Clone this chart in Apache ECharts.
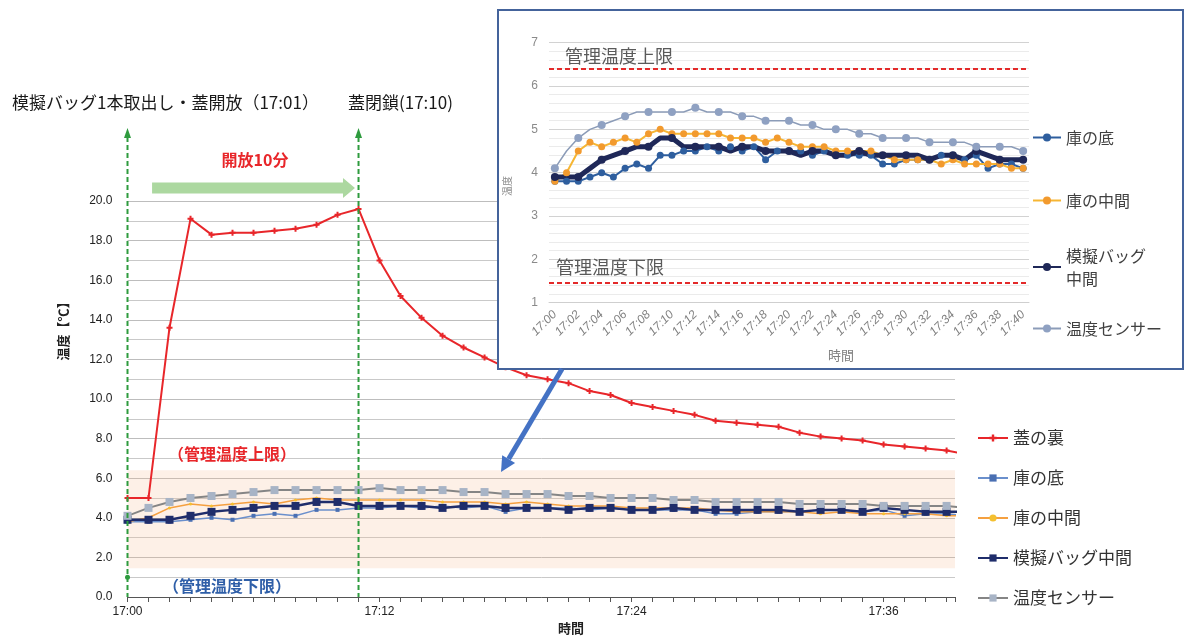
<!DOCTYPE html>
<html>
<head>
<meta charset="utf-8">
<script src="https://cdn.jsdelivr.net/npm/echarts@6/dist/echarts.min.js"></script>
<style>
  html, body { margin: 0; padding: 0; background: #ffffff; }
  #chart { width: 1184px; height: 636px; }
</style>
</head>
<body>
<div id="chart"></div>
<script>
// Readings taken once a minute, 17:00 – 17:40
const timeLabels = [
  '17:00','17:01','17:02','17:03','17:04','17:05','17:06','17:07','17:08','17:09',
  '17:10','17:11','17:12','17:13','17:14','17:15','17:16','17:17','17:18','17:19',
  '17:20','17:21','17:22','17:23','17:24','17:25','17:26','17:27','17:28','17:29',
  '17:30','17:31','17:32','17:33','17:34','17:35','17:36','17:37','17:38','17:39',
  '17:40'
];

// 蓋の裏
const lidTemp = [
  5.0, 5.0, 13.6, 19.1, 18.3, 18.4, 18.4, 18.5, 18.6, 18.8,
  19.3, 19.6, 17.0, 15.2, 14.1, 13.2, 12.6, 12.1, 11.6, 11.2,
  11.0, 10.8, 10.4, 10.2, 9.8, 9.6, 9.4, 9.2, 8.9, 8.8,
  8.7, 8.6, 8.3, 8.1, 8.0, 7.9, 7.7, 7.6, 7.5, 7.4,
  7.2
];
// 庫の底
const bottomTemp = [
  3.8, 3.8, 3.8, 3.9, 4.0, 3.9, 4.1, 4.2, 4.1, 4.4,
  4.4, 4.5, 4.5, 4.6, 4.5, 4.6, 4.5, 4.6, 4.3, 4.5,
  4.5, 4.5, 4.4, 4.5, 4.4, 4.4, 4.4, 4.4, 4.2, 4.2,
  4.3, 4.3, 4.3, 4.4, 4.4, 4.3, 4.4, 4.1, 4.2, 4.2,
  4.1
];
// 庫の中間
const middleTemp = [
  3.8, 4.0, 4.5, 4.7, 4.6, 4.7, 4.8, 4.7, 4.9, 5.0,
  4.9, 4.9, 4.9, 4.9, 4.9, 4.8, 4.8, 4.8, 4.7, 4.8,
  4.7, 4.6, 4.6, 4.6, 4.5, 4.5, 4.5, 4.5, 4.4, 4.3,
  4.3, 4.3, 4.3, 4.2, 4.3, 4.2, 4.2, 4.2, 4.2, 4.1,
  4.1
];
// 模擬バッグ中間
const bagTemp = [
  3.9, 3.9, 3.9, 4.1, 4.3, 4.4, 4.5, 4.6, 4.6, 4.8,
  4.8, 4.6, 4.6, 4.6, 4.6, 4.5, 4.6, 4.6, 4.5, 4.5,
  4.5, 4.4, 4.5, 4.5, 4.4, 4.4, 4.5, 4.4, 4.4, 4.4,
  4.4, 4.4, 4.3, 4.4, 4.4, 4.3, 4.5, 4.4, 4.3, 4.3,
  4.3
];
// 温度センサー
const sensorTemp = [
  4.1, 4.5, 4.8, 5.0, 5.1, 5.2, 5.3, 5.4, 5.4, 5.4,
  5.4, 5.4, 5.5, 5.4, 5.4, 5.4, 5.3, 5.3, 5.2, 5.2,
  5.2, 5.1, 5.1, 5.0, 5.0, 5.0, 4.9, 4.9, 4.8, 4.8,
  4.8, 4.8, 4.7, 4.7, 4.7, 4.7, 4.6, 4.6, 4.6, 4.6,
  4.5
];

// 管理温度 (上限・下限)
const controlUpper = 6.4;
const controlLower = 1.45;

// lid opened / closed (minutes after 17:00)
const eventMinutes = [0, 11];

// main axis tick labels
const mainYTicks = [0, 2, 4, 6, 8, 10, 12, 14, 16, 18, 20];
const mainXLabelMinutes = [0, 12, 24, 36];

const JP = "'Noto Sans CJK JP', 'Noto Sans', sans-serif";
const NUM = "'Liberation Sans', Arial, sans-serif";

// the enlarged panel reuses the legend names, so its series carry a suffix that the legend strips
const ZOOM = '（拡大）';

const asMinutes = arr => arr.map((v, i) => [i, v]);
const plusSymbol = 'path://M2,0h2v2h2v2h-2v2h-2v-2h-2v-2h2z';

const mainSeries = [
  {
    name: '蓋の裏', data: asMinutes(lidTemp),
    symbol: plusSymbol, symbolSize: 6,
    lineStyle: { color: '#e8262a', width: 2 }, itemStyle: { color: '#e8262a' },
    markArea: {
      silent: true,
      itemStyle: { color: 'rgba(246, 186, 146, 0.22)' },
      data: [[{ yAxis: controlLower }, { yAxis: controlUpper }]]
    }
  },
  {
    name: '庫の底', data: asMinutes(bottomTemp),
    symbol: 'rect', symbolSize: 4,
    lineStyle: { color: '#6a8fcc', width: 1.5 }, itemStyle: { color: '#4a6fb2' }
  },
  {
    name: '庫の中間', data: asMinutes(middleTemp),
    symbol: 'circle', symbolSize: 3,
    lineStyle: { color: '#f5a040', width: 1.5 }, itemStyle: { color: '#f4c030' }
  },
  {
    name: '模擬バッグ中間', data: asMinutes(bagTemp),
    symbol: 'rect', symbolSize: 8,
    lineStyle: { color: '#1f2d6b', width: 2.5 }, itemStyle: { color: '#1f2d6b' }
  },
  {
    name: '温度センサー', data: asMinutes(sensorTemp),
    symbol: 'rect', symbolSize: 8,
    lineStyle: { color: '#858585', width: 2 }, itemStyle: { color: '#a8b4c6' }
  }
].map(s => Object.assign({
  type: 'line', xAxisIndex: 0, yAxisIndex: 0, z: 2,
  showSymbol: true, animation: false, emphasis: { disabled: true }
}, s));

const insetSeries = [
  {
    name: '庫の底' + ZOOM, data: bottomTemp, symbolSize: 7,
    lineStyle: { color: '#2e5e9e', width: 2 }, itemStyle: { color: '#2e5e9e' },
    markLine: {
      silent: true, symbol: 'none', z: 9, label: { show: false },
      lineStyle: { color: '#e32a2a', width: 2, type: [5, 3] },
      data: [{ yAxis: controlUpper }, { yAxis: controlLower }]
    }
  },
  {
    name: '庫の中間' + ZOOM, data: middleTemp, symbolSize: 7,
    lineStyle: { color: '#f6b634', width: 2 }, itemStyle: { color: '#f29a2e' }
  },
  {
    name: '模擬バッグ\n中間', data: bagTemp, symbolSize: 8,
    lineStyle: { color: '#1f2858', width: 5 }, itemStyle: { color: '#1f2858' }
  },
  {
    name: '温度センサー' + ZOOM, data: sensorTemp, symbolSize: 8,
    lineStyle: { color: '#8c9cb8', width: 1.5 }, itemStyle: { color: '#8fa1c2' }
  }
].map(s => Object.assign({
  type: 'line', xAxisIndex: 1, yAxisIndex: 1, z: 8,
  symbol: 'circle', showSymbol: true, animation: false, emphasis: { disabled: true }
}, s));

const insetLegend = (name, top) => ({
  data: [name], orient: 'vertical', left: 1027, top: top, z: 9,
  itemWidth: 28, itemHeight: 10, selectedMode: false,
  formatter: n => n.replace(ZOOM, ''),
  textStyle: { fontFamily: JP, fontSize: 16, lineHeight: 23, color: '#404040' }
});

const option = {
  animation: false,
  backgroundColor: '#ffffff',
  grid: [
    { left: 127.5, right: 229, top: 201, bottom: 39, outerBoundsMode: 'none', containLabel: false },
    { left: 549, right: 155, top: 42.7, bottom: 333.3, outerBoundsMode: 'none', containLabel: false, z: 6 }
  ],
  xAxis: [
    {
      gridIndex: 0, type: 'value', min: 0, max: 39.4, interval: 1,
      axisLine: { show: true, lineStyle: { color: '#555555', width: 1 } },
      axisTick: { show: true, length: 5, lineStyle: { color: '#555555' } },
      splitLine: { show: false },
      axisLabel: {
        margin: 9, color: '#222222', fontFamily: NUM, fontSize: 12,
        formatter: v => mainXLabelMinutes.includes(v) ? timeLabels[v] : ''
      }
    },
    {
      gridIndex: 1, type: 'category', data: timeLabels, boundaryGap: true, z: 6,
      axisLine: { show: true, lineStyle: { color: '#cfcfcf' } },
      axisTick: { show: false },
      splitLine: { show: false },
      axisLabel: {
        interval: 1, rotate: 45, margin: 10, color: '#808080',
        fontFamily: NUM, fontSize: 12, fontStyle: 'italic'
      }
    }
  ],
  yAxis: [
    {
      gridIndex: 0, type: 'value', min: 0, max: 20, interval: 2,
      axisLine: { show: false }, axisTick: { show: false },
      splitLine: { show: true, lineStyle: { color: '#bdbdbd', width: 1 } },
      minorTick: { show: false, splitNumber: 2 },
      minorSplitLine: { show: true, lineStyle: { color: '#c9c9c9', width: 1 } },
      axisLabel: {
        margin: 15, color: '#222222', fontFamily: NUM, fontSize: 12,
        formatter: v => mainYTicks.includes(v) ? v.toFixed(1) : ''
      }
    },
    {
      gridIndex: 1, type: 'value', min: 1, max: 7, interval: 1, z: 6,
      axisLine: { show: false }, axisTick: { show: false },
      splitLine: { show: true, lineStyle: { color: '#d2d2d2', width: 1 } },
      minorTick: { show: false, splitNumber: 5 },
      minorSplitLine: { show: true, lineStyle: { color: '#ebebeb', width: 1 } },
      axisLabel: { margin: 11, color: '#8a8a8a', fontFamily: NUM, fontSize: 12 }
    }
  ],
  legend: [
    {
      data: mainSeries.map(s => s.name), orient: 'vertical',
      left: 972, top: 423, itemGap: 20, itemWidth: 30, itemHeight: 9, selectedMode: false,
      textStyle: { fontFamily: JP, fontSize: 17, lineHeight: 20, color: '#333333' }
    },
    insetLegend('庫の底' + ZOOM, 121),
    insetLegend('庫の中間' + ZOOM, 184),
    insetLegend('模擬バッグ\n中間', 239),
    insetLegend('温度センサー' + ZOOM, 312)
  ],
  series: mainSeries.concat(insetSeries)
};

const chart = echarts.init(document.getElementById('chart'), null, { renderer: 'canvas' });
chart.setOption(option);

// annotations placed from the main axes
const toPx = (m, v) => chart.convertToPixel({ xAxisIndex: 0, yAxisIndex: 0 }, [m, v]);
const green = '#2e9b3e';
const graphics = [];

eventMinutes.forEach(t => {
  const [x, yBase] = toPx(t, 0);
  graphics.push({
    type: 'line', z: 3, silent: true,
    shape: { x1: x, y1: 137, x2: x, y2: yBase },
    style: { stroke: green, lineWidth: 2, lineDash: [5, 3] }
  });
  graphics.push({
    type: 'polygon', z: 3, silent: true,
    shape: { points: [[x - 3.5, 138], [x, 128], [x + 3.5, 138]] },
    style: { fill: green }
  });
});
{
  const [gx, gy] = toPx(0, 1);
  graphics.push({ type: 'circle', z: 3, silent: true, shape: { cx: gx, cy: gy, r: 2.5 }, style: { fill: green } });
}

// open-period arrow (17:01 → 17:11)
{
  const xs = toPx(1.17, 0)[0];
  const xb = toPx(10.26, 0)[0];
  const xt = toPx(10.83, 0)[0];
  const cy = 188;
  graphics.push({
    type: 'polygon', z: 3, silent: true,
    shape: { points: [[xs, cy - 5.5], [xb, cy - 5.5], [xb, cy - 10], [xt, cy], [xb, cy + 10], [xb, cy + 5.5], [xs, cy + 5.5]] },
    style: { fill: '#acd8a0' }
  });
}

const text = (t, x, y, size, color, extraStyle, extraProps) => Object.assign({
  type: 'text', x: x, y: y, z: 9, silent: true,
  style: Object.assign({
    text: t, fontFamily: JP, fontSize: size, fill: color,
    align: 'left', verticalAlign: 'middle'
  }, extraStyle || {})
}, extraProps || {});

graphics.push(text('模擬バッグ1本取出し・蓋開放（17:01）', 12, 103, 17, '#1a1a1a'));
graphics.push(text('蓋閉鎖(17:10)', 348, 103, 17, '#1a1a1a'));
graphics.push(text('開放10分', 255, 160, 16, '#e8262a', { align: 'center', fontWeight: 'bold' }));
graphics.push(text('（管理温度上限）', 168, 454, 16, '#e8262a', { fontWeight: 'bold' }));
graphics.push(text('（管理温度下限）', 163, 586, 16, '#2f5fa8', { fontWeight: 'bold' }));
graphics.push(text('温度【℃】', 63, 328, 13, '#222222', { align: 'center', fontWeight: 'bold' }, { rotation: Math.PI / 2 }));
graphics.push(text('時間', 571, 628, 13, '#222222', { align: 'center', fontWeight: 'bold' }));

// enlarged panel frame
graphics.push({
  type: 'rect', z: 5, silent: true,
  shape: { x: 498, y: 10, width: 685, height: 359 },
  style: { fill: '#ffffff', stroke: '#44639b', lineWidth: 2 }
});
graphics.push(text('管理温度上限', 565, 56, 18, '#5a5a5a'));
graphics.push(text('管理温度下限', 556, 267, 18, '#5a5a5a'));
graphics.push(text('温度', 507, 186, 10, '#8a8a8a', { align: 'center' }, { rotation: Math.PI / 2 }));
graphics.push(text('時間', 841, 355, 13, '#7f7f7f', { align: 'center' }));

// pointer from the panel down to the control band
{
  const tip = [501, 472];
  const start = [562, 369];
  const dx = tip[0] - start[0], dy = tip[1] - start[1];
  const len = Math.hypot(dx, dy);
  const ux = dx / len, uy = dy / len;
  const bx = tip[0] - 15 * ux, by = tip[1] - 15 * uy;
  const px = -uy, py = ux;
  graphics.push({
    type: 'line', z: 9, silent: true,
    shape: { x1: start[0], y1: start[1], x2: bx, y2: by },
    style: { stroke: '#4472c4', lineWidth: 5 }
  });
  graphics.push({
    type: 'polygon', z: 9, silent: true,
    shape: { points: [[bx + 7.5 * px, by + 7.5 * py], tip, [bx - 7.5 * px, by - 7.5 * py]] },
    style: { fill: '#4472c4' }
  });
}

chart.setOption({ graphic: graphics });
</script>
</body>
</html>
